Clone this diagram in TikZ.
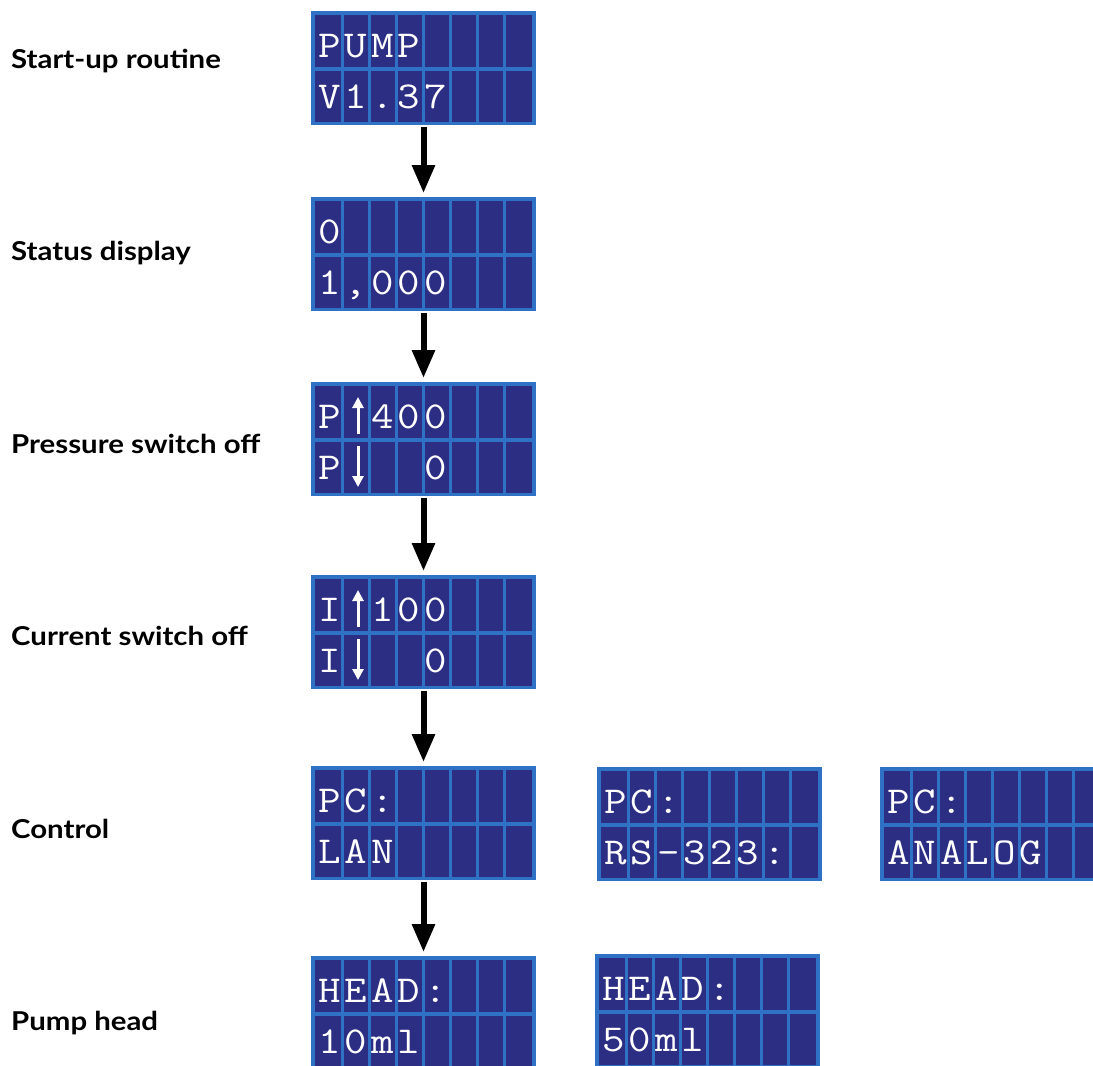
\documentclass[tikz,border=0pt]{standalone}
\usepackage{fontspec}
\usepackage{graphicx}
\usetikzlibrary{arrows.meta}
\newfontfamily\labelfont[FakeStretch=1.13]{Lato}
\definecolor{lcdnavy}{RGB}{44,46,132}
\definecolor{lcdgrid}{RGB}{47,113,197}
\newcommand\lcdfnt{\ttfamily\fontsize{38}{38}\selectfont}
\makeatletter
\newcommand\lcdspread[1]{\@tfor\lcd@c:=#1\do{\makebox[26.5pt][c]{\scalebox{1.15}[1]{\lcd@c}}}}
\makeatother
\tikzset{
  lcd/.style={rectangle, fill=lcdgrid, minimum width=225pt, minimum height=114pt, inner sep=0pt, outer sep=0pt},
  lcdtext/.style={anchor=base west, inner sep=0pt, text=white, font=\lcdfnt},
  lbl/.style={anchor=base west, inner sep=0pt, font=\labelfont\bfseries\fontsize{26}{26}\selectfont},
  flowarrow/.style={line width=6pt, -{Triangle[width=22pt,length=28pt]}, shorten <=2pt, shorten >=4pt},
  minarrow/.style={white, line width=3pt, -{Triangle[width=11pt,length=11pt]}}
}
% name, x, y (top-left in px), top text, bottom text
\newcommand\lcdbox[5]{%
  \node[lcd] (#1) at (#2+112.5,#3+57) {};
  \fill[lcdnavy] (#2+4,#3+4) rectangle (#2+221,#3+111);
  \foreach \i in {1,...,7} \draw[lcdgrid,line width=3pt] (#2+4+27.125*\i,#3+4) -- (#2+4+27.125*\i,#3+111);
  \draw[lcdgrid,line width=4pt] (#2+4,#3+58) -- (#2+221,#3+58);
  \node[lcdtext] (#1t) at (#2+5,#3+46) {\lcdspread{#4}};
  \node[lcdtext] (#1b) at (#2+5,#3+97) {\lcdspread{#5}};
}
\begin{document}
\begin{tikzpicture}[x=1pt,y=-1pt]
\useasboundingbox (0,0) rectangle (1093,1066);
\clip (0,0) rectangle (1093,1066);
\fill[white] (0,0) rectangle (1093,1066);

% labels
\node[lbl] (l1) at (11,68) {Start-up routine};
\node[lbl] (l2) at (11,260) {Status display};
\node[lbl] (l3) at (11,453) {Pressure switch off};
\node[lbl] (l4) at (11,645) {Current switch off};
\node[lbl] (l5) at (11,838) {Control};
\node[lbl] (l6) at (11,1030) {Pump head};

% displays
\lcdbox{d1}{311}{11}{PUMP}{V1.37}
\lcdbox{d2}{311}{197}{0}{1,000}
\lcdbox{d3}{311}{382}{P}{P}
\node[lcdtext] (d3n) at (311+5+2*26.5,382+46) {\lcdspread{400}};
\node[lcdtext] (d3z) at (311+5+4*26.5,382+97) {\lcdspread{0}};
\draw[minarrow] (358,382+52) -- (358,382+15);
\draw[minarrow] (358,382+64) -- (358,382+105);
\lcdbox{d4}{311}{575}{I}{I}
\node[lcdtext] (d4n) at (311+5+2*26.5,575+46) {\lcdspread{100}};
\node[lcdtext] (d4z) at (311+5+4*26.5,575+97) {\lcdspread{0}};
\draw[minarrow] (358,575+52) -- (358,575+15);
\draw[minarrow] (358,575+64) -- (358,575+105);
\lcdbox{d5}{311}{766}{PC:}{LAN}
\lcdbox{d5b}{597}{767}{PC:}{RS-323:}
\lcdbox{d5c}{880}{767}{PC:}{ANALOG}
\lcdbox{d6}{311}{956}{HEAD:}{10ml}
\lcdbox{d6b}{595}{954}{HEAD:}{50ml}

% flow arrows
\draw[flowarrow] (d1.south) -- (d2.north);
\draw[flowarrow] (d2.south) -- (d3.north);
\draw[flowarrow] (d3.south) -- (d4.north);
\draw[flowarrow] (d4.south) -- (d5.north);
\draw[flowarrow] (d5.south) -- (d6.north);
\end{tikzpicture}
\end{document}
